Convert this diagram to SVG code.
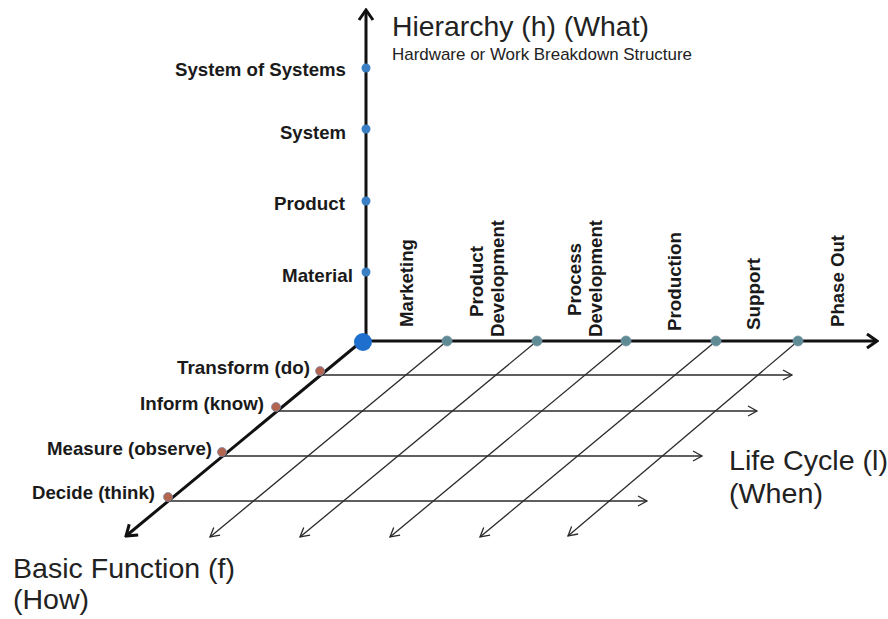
<svg xmlns="http://www.w3.org/2000/svg" width="888" height="619" viewBox="0 0 888 619">
  <style>
    .axis { stroke: #111; stroke-width: 3; fill: none; }
    .grid { stroke: #2a2a2a; stroke-width: 1.3; fill: none; }
    .lbl { font-family: "Liberation Sans", Arial, sans-serif; font-weight: bold; font-size: 18.5px; fill: #1a1a1a; }
    .big { font-family: "Liberation Sans", Arial, sans-serif; font-size: 28.5px; fill: #222; }
    .sub { font-family: "Liberation Sans", Arial, sans-serif; font-size: 17px; fill: #222; }
    .dotH { fill: #3b7fc4; }
    .dotL { fill: #5f8c94; stroke: #7795a8; stroke-width: 0.8; }
    .dotF { fill: #b3654f; stroke: #7f8fae; stroke-width: 0.8; }
  </style>
  <defs>
    <marker id="headAxis" viewBox="-12 -9 14 18" refX="0" refY="0" markerUnits="userSpaceOnUse" markerWidth="14" markerHeight="18" orient="auto">
      <path d="M-10,-7 L0,0 L-10,7" fill="none" stroke="#111" stroke-width="3"/>
    </marker>
    <marker id="headThin" viewBox="-10 -7 12 14" refX="0" refY="0" markerUnits="userSpaceOnUse" markerWidth="12" markerHeight="14" orient="auto">
      <path d="M-9,-5 L0,0 L-9,5" fill="none" stroke="#2a2a2a" stroke-width="1.3"/>
    </marker>
  </defs>

  <!-- connectors: three axes and the grid lines -->
  <g id="connectors">
    <line class="grid" x1="447" y1="341" x2="210" y2="537" marker-end="url(#headThin)"/>
    <line class="grid" x1="537" y1="341" x2="300" y2="537" marker-end="url(#headThin)"/>
    <line class="grid" x1="626" y1="341" x2="390" y2="537" marker-end="url(#headThin)"/>
    <line class="grid" x1="716" y1="341" x2="480" y2="537" marker-end="url(#headThin)"/>
    <line class="grid" x1="798" y1="341" x2="568" y2="536" marker-end="url(#headThin)"/>
    <line class="grid" x1="321" y1="375" x2="792" y2="375" marker-end="url(#headThin)"/>
    <line class="grid" x1="277" y1="411" x2="757" y2="411" marker-end="url(#headThin)"/>
    <line class="grid" x1="223" y1="456" x2="702" y2="456" marker-end="url(#headThin)"/>
    <line class="grid" x1="169" y1="501" x2="647" y2="501" marker-end="url(#headThin)"/>
    <line id="axis-h" class="axis" x1="366" y1="342" x2="366" y2="10" marker-end="url(#headAxis)"/>
    <line id="axis-l" class="axis" x1="362" y1="341" x2="877" y2="341" marker-end="url(#headAxis)"/>
    <line id="axis-f" class="axis" x1="362" y1="341" x2="126" y2="536" marker-end="url(#headAxis)"/>
  </g>

  <!-- origin -->
  <g id="origin">
    <circle cx="363" cy="342" r="9" fill="#1f6fce"/>
  </g>

  <!-- hierarchy levels -->
  <g id="h-sos"><circle class="dotH" cx="366" cy="68" r="4.5"/><text class="lbl" x="346" y="76" text-anchor="end" textLength="171" lengthAdjust="spacingAndGlyphs">System of Systems</text></g>
  <g id="h-system"><circle class="dotH" cx="366" cy="129" r="4.5"/><text class="lbl" x="346" y="139" text-anchor="end" textLength="66" lengthAdjust="spacingAndGlyphs">System</text></g>
  <g id="h-product"><circle class="dotH" cx="366" cy="201" r="4.5"/><text class="lbl" x="345" y="210" text-anchor="end" textLength="71" lengthAdjust="spacingAndGlyphs">Product</text></g>
  <g id="h-material"><circle class="dotH" cx="366" cy="272" r="4.5"/><text class="lbl" x="353" y="282" text-anchor="end" textLength="71" lengthAdjust="spacingAndGlyphs">Material</text></g>

  <!-- life cycle phases -->
  <g id="l-marketing"><text class="lbl" transform="translate(413,327) rotate(-90)" textLength="88" lengthAdjust="spacingAndGlyphs">Marketing</text></g>
  <g id="l-product-dev"><circle class="dotL" cx="447" cy="341" r="5"/>
    <text class="lbl" transform="translate(483,317) rotate(-90)" textLength="71" lengthAdjust="spacingAndGlyphs">Product</text>
    <text class="lbl" transform="translate(504,337) rotate(-90)" textLength="117" lengthAdjust="spacingAndGlyphs">Development</text></g>
  <g id="l-process-dev"><circle class="dotL" cx="537" cy="341" r="5"/>
    <text class="lbl" transform="translate(581,316) rotate(-90)" textLength="73" lengthAdjust="spacingAndGlyphs">Process</text>
    <text class="lbl" transform="translate(602,337) rotate(-90)" textLength="117" lengthAdjust="spacingAndGlyphs">Development</text></g>
  <g id="l-production"><circle class="dotL" cx="626" cy="341" r="5"/><text class="lbl" transform="translate(681,331) rotate(-90)" textLength="99" lengthAdjust="spacingAndGlyphs">Production</text></g>
  <g id="l-support"><circle class="dotL" cx="716" cy="341" r="5"/><text class="lbl" transform="translate(760,330) rotate(-90)" textLength="72" lengthAdjust="spacingAndGlyphs">Support</text></g>
  <g id="l-phase-out"><circle class="dotL" cx="798" cy="341" r="5"/><text class="lbl" transform="translate(844,327) rotate(-90)" textLength="92" lengthAdjust="spacingAndGlyphs">Phase Out</text></g>

  <!-- basic functions -->
  <g id="f-transform"><circle class="dotF" cx="320" cy="371" r="4.5"/><text class="lbl" x="310" y="374" text-anchor="end" textLength="133" lengthAdjust="spacingAndGlyphs">Transform (do)</text></g>
  <g id="f-inform"><circle class="dotF" cx="276" cy="407" r="4.5"/><text class="lbl" x="264" y="410" text-anchor="end" textLength="124" lengthAdjust="spacingAndGlyphs">Inform (know)</text></g>
  <g id="f-measure"><circle class="dotF" cx="222" cy="452" r="4.5"/><text class="lbl" x="212" y="455" text-anchor="end" textLength="165" lengthAdjust="spacingAndGlyphs">Measure (observe)</text></g>
  <g id="f-decide"><circle class="dotF" cx="168" cy="497" r="4.5"/><text class="lbl" x="155" y="499" text-anchor="end" textLength="123" lengthAdjust="spacingAndGlyphs">Decide (think)</text></g>

  <!-- axis titles -->
  <g id="title-h">
    <text class="big" x="392" y="36" textLength="257" lengthAdjust="spacingAndGlyphs">Hierarchy (h) (What)</text>
    <text class="sub" x="392" y="60" textLength="300" lengthAdjust="spacingAndGlyphs">Hardware or Work Breakdown Structure</text>
  </g>
  <g id="title-l">
    <text class="big" x="729" y="470" textLength="159" lengthAdjust="spacingAndGlyphs">Life Cycle (l)</text>
    <text class="big" x="729" y="503" textLength="94" lengthAdjust="spacingAndGlyphs">(When)</text>
  </g>
  <g id="title-f">
    <text class="big" x="13" y="578" textLength="222" lengthAdjust="spacingAndGlyphs">Basic Function (f)</text>
    <text class="big" x="13" y="609" textLength="76" lengthAdjust="spacingAndGlyphs">(How)</text>
  </g>
</svg>
